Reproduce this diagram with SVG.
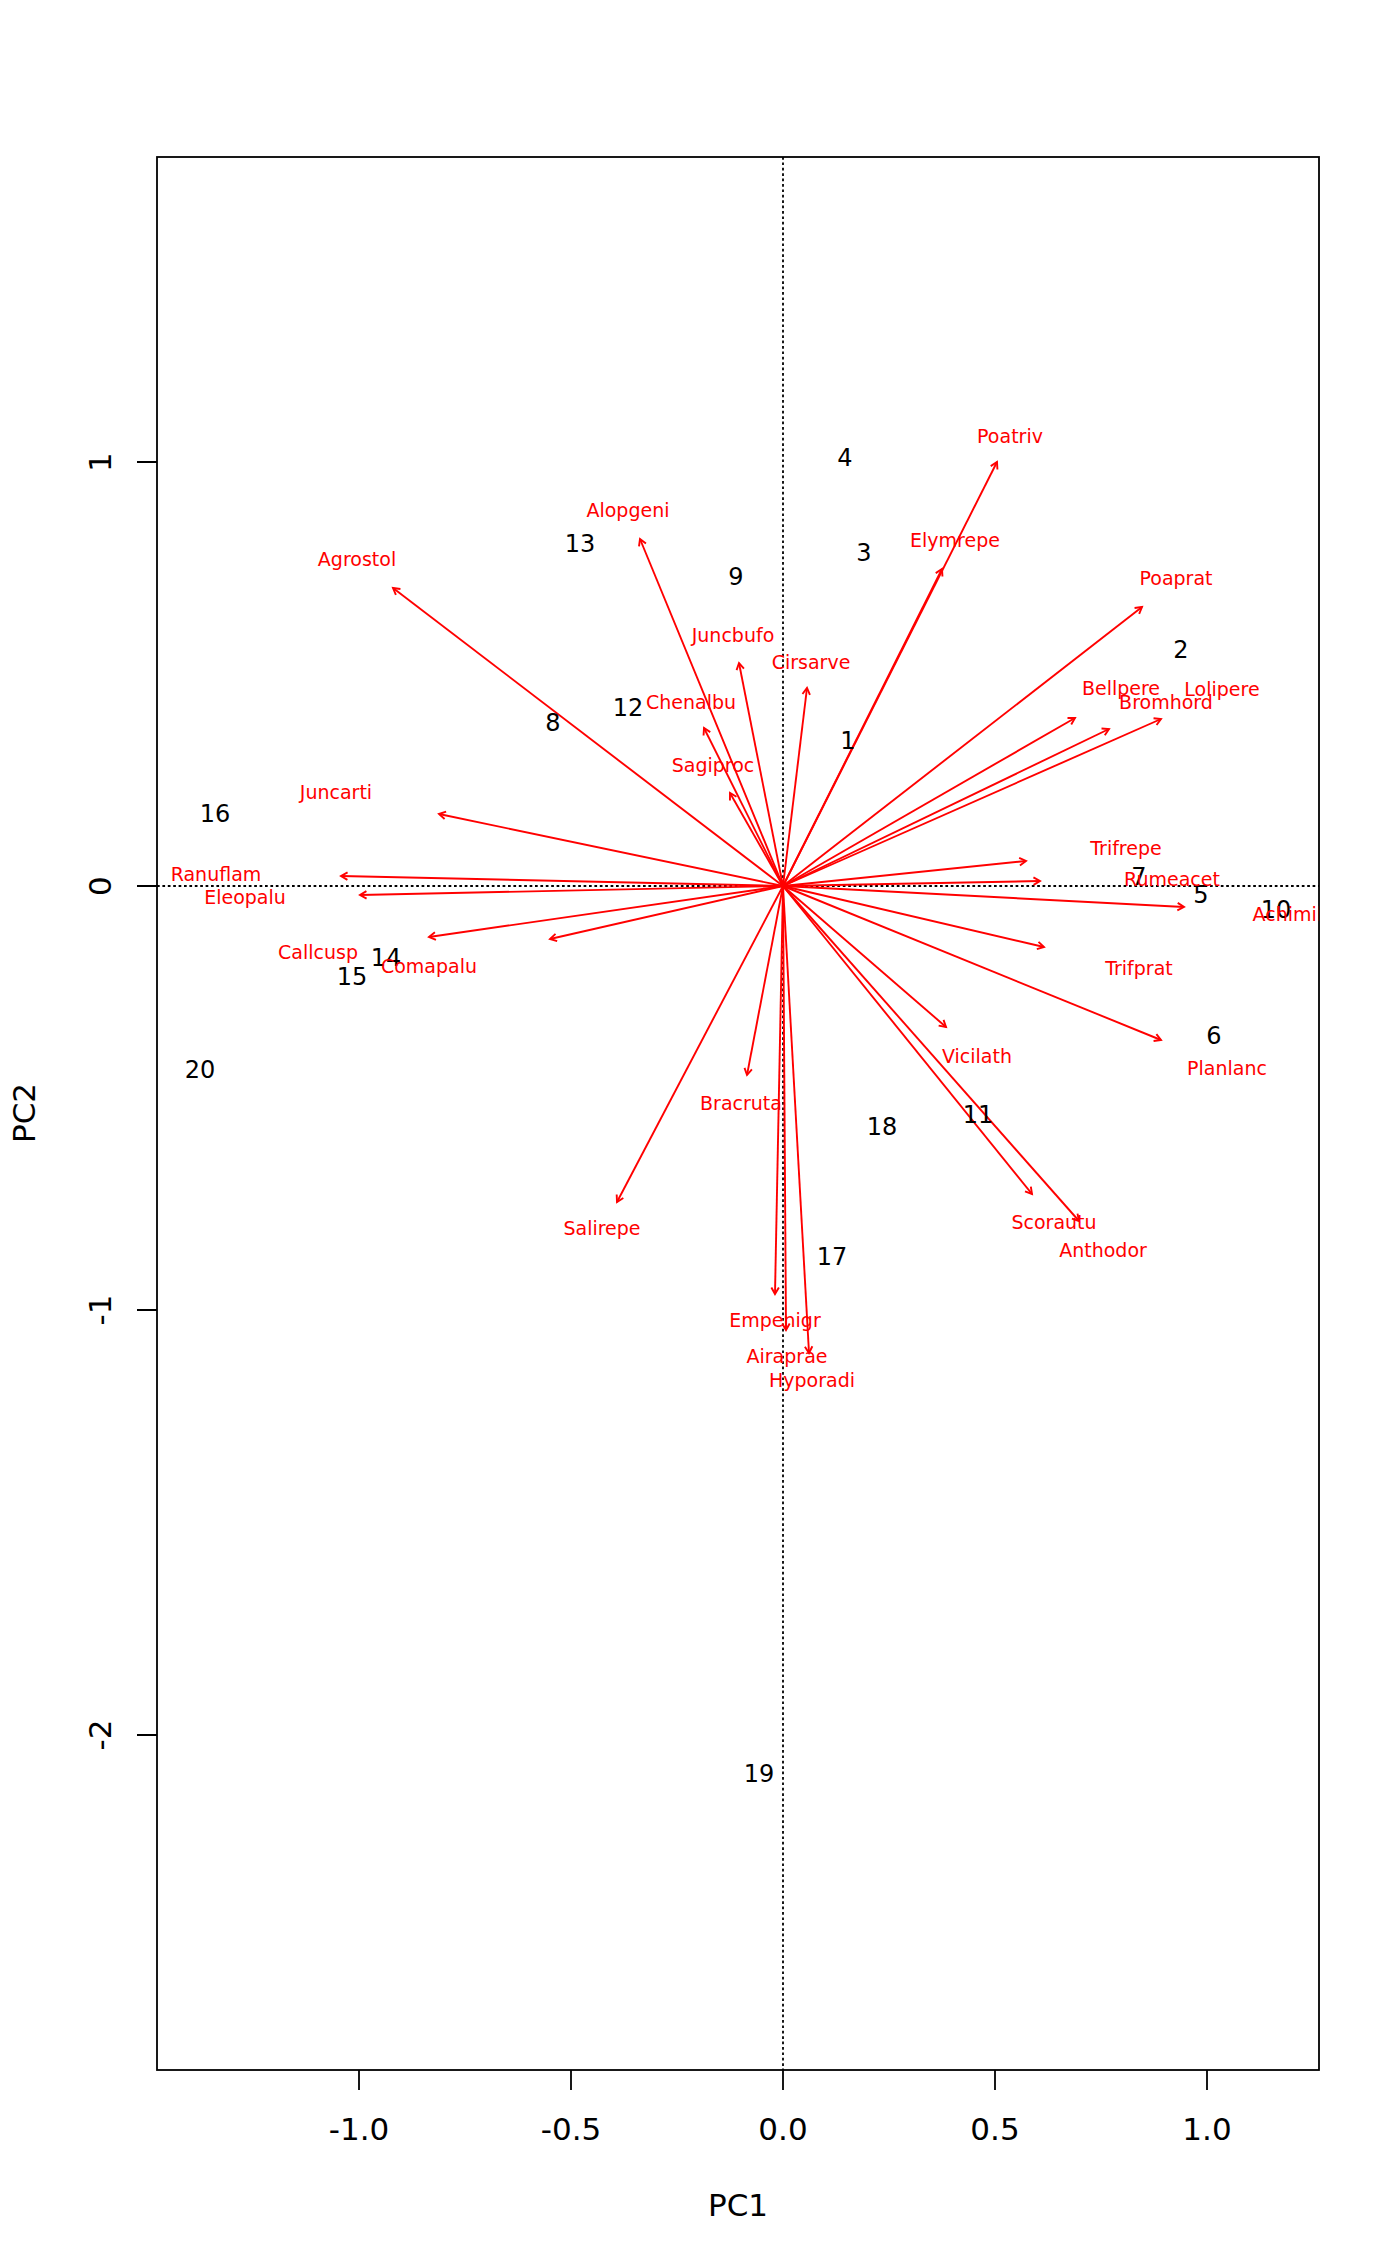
<svg xmlns="http://www.w3.org/2000/svg" width="1400" height="2266" viewBox="0 0 1400 2266">
<style>
text{font-family:"DejaVu Sans","Liberation Sans",sans-serif}
.ax{font-size:31px;fill:#000;text-anchor:middle}
.pt{font-size:24px;fill:#000;text-anchor:middle}
.sp{font-size:19px;fill:#ff0000;text-anchor:middle}
.arr line{stroke:#ff0000;stroke-width:1.9;marker-end:url(#ah)}
.blk{stroke:#000;stroke-width:1.8;fill:none}
.dot{stroke:#000;stroke-width:1.8;stroke-dasharray:2.7 2.7}
</style>
<defs>
<marker id="ah" markerUnits="userSpaceOnUse" viewBox="-8 -5 10 10" markerWidth="10" markerHeight="10" refX="0" refY="0" orient="auto" overflow="visible">
<path d="M-6.5,-3.75 L0,0 L-6.5,3.75" fill="none" stroke="#ff0000" stroke-width="1.9"/>
</marker>
<clipPath id="plot"><rect x="157" y="157" width="1162" height="1913"/></clipPath>
</defs>
<rect width="1400" height="2266" fill="#fff"/>
<g id="axes">
<rect class="blk" x="157" y="157" width="1162" height="1913"/>
<path class="blk" d="M359,2070V2090M571,2070V2090M783,2070V2090M995,2070V2090M1207,2070V2090M137,462H157M137,886H157M137,1310H157M137,1735H157"/>
<text class="ax" x="359" y="2140">-1.0</text>
<text class="ax" x="571" y="2140">-0.5</text>
<text class="ax" x="783" y="2140">0.0</text>
<text class="ax" x="995" y="2140">0.5</text>
<text class="ax" x="1207" y="2140">1.0</text>
<text class="ax" x="111" y="462" transform="rotate(-90 111 462)">1</text>
<text class="ax" x="111" y="886" transform="rotate(-90 111 886)">0</text>
<text class="ax" x="111" y="1310" transform="rotate(-90 111 1310)">-1</text>
<text class="ax" x="111" y="1735" transform="rotate(-90 111 1735)">-2</text>
<text class="ax" x="738" y="2216">PC1</text>
<text class="ax" x="35" y="1113" transform="rotate(-90 35 1113)">PC2</text>
</g>
<g clip-path="url(#plot)">
<g id="refs">
<line class="dot" x1="157" y1="886" x2="1319" y2="886"/>
<line class="dot" x1="783" y1="157" x2="783" y2="2070"/>
</g>
<g id="connectors" class="arr">
<line x1="783" y1="886" x2="393" y2="588"/>
<line x1="783" y1="886" x2="640" y2="539"/>
<line x1="783" y1="886" x2="739" y2="663"/>
<line x1="783" y1="886" x2="807" y2="688"/>
<line x1="783" y1="886" x2="704" y2="728"/>
<line x1="783" y1="886" x2="730" y2="793"/>
<line x1="783" y1="886" x2="997" y2="462"/>
<line x1="783" y1="886" x2="942" y2="569"/>
<line x1="783" y1="886" x2="1142" y2="607"/>
<line x1="783" y1="886" x2="1075" y2="718"/>
<line x1="783" y1="886" x2="1109" y2="729"/>
<line x1="783" y1="886" x2="1161" y2="719"/>
<line x1="783" y1="886" x2="1026" y2="861"/>
<line x1="783" y1="886" x2="1040" y2="881"/>
<line x1="783" y1="886" x2="1184" y2="907"/>
<line x1="783" y1="886" x2="1044" y2="947"/>
<line x1="783" y1="886" x2="1161" y2="1040"/>
<line x1="783" y1="886" x2="946" y2="1027"/>
<line x1="783" y1="886" x2="1032" y2="1194"/>
<line x1="783" y1="886" x2="1079" y2="1221"/>
<line x1="783" y1="886" x2="747" y2="1075"/>
<line x1="783" y1="886" x2="617" y2="1202"/>
<line x1="783" y1="886" x2="775" y2="1294"/>
<line x1="783" y1="886" x2="786" y2="1330"/>
<line x1="783" y1="886" x2="809" y2="1353"/>
<line x1="783" y1="886" x2="439" y2="814"/>
<line x1="783" y1="886" x2="341" y2="876"/>
<line x1="783" y1="886" x2="360" y2="895"/>
<line x1="783" y1="886" x2="429" y2="937"/>
<line x1="783" y1="886" x2="550" y2="939"/>
</g>
<g id="samples">
<g id="s1"><text class="pt" x="848" y="749">1</text></g>
<g id="s2"><text class="pt" x="1181" y="658">2</text></g>
<g id="s3"><text class="pt" x="864" y="561">3</text></g>
<g id="s4"><text class="pt" x="845" y="466">4</text></g>
<g id="s5"><text class="pt" x="1201" y="903">5</text></g>
<g id="s6"><text class="pt" x="1214" y="1044">6</text></g>
<g id="s7"><text class="pt" x="1139" y="885">7</text></g>
<g id="s8"><text class="pt" x="553" y="731">8</text></g>
<g id="s9"><text class="pt" x="736" y="585">9</text></g>
<g id="s10"><text class="pt" x="1276" y="918">10</text></g>
<g id="s11"><text class="pt" x="978" y="1123">11</text></g>
<g id="s12"><text class="pt" x="628" y="716">12</text></g>
<g id="s13"><text class="pt" x="580" y="552">13</text></g>
<g id="s14"><text class="pt" x="386" y="966">14</text></g>
<g id="s15"><text class="pt" x="352" y="985">15</text></g>
<g id="s16"><text class="pt" x="215" y="822">16</text></g>
<g id="s17"><text class="pt" x="832" y="1265">17</text></g>
<g id="s18"><text class="pt" x="882" y="1135">18</text></g>
<g id="s19"><text class="pt" x="759" y="1782">19</text></g>
<g id="s20"><text class="pt" x="200" y="1078">20</text></g>
</g>
<g id="species">
<g id="Agrostol"><text class="sp" x="357" y="566">Agrostol</text></g>
<g id="Alopgeni"><text class="sp" x="628" y="517">Alopgeni</text></g>
<g id="Juncbufo"><text class="sp" x="733" y="642">Juncbufo</text></g>
<g id="Cirsarve"><text class="sp" x="811" y="669">Cirsarve</text></g>
<g id="Chenalbu"><text class="sp" x="691" y="709">Chenalbu</text></g>
<g id="Sagiproc"><text class="sp" x="713" y="772">Sagiproc</text></g>
<g id="Poatriv"><text class="sp" x="1010" y="443">Poatriv</text></g>
<g id="Elymrepe"><text class="sp" x="955" y="547">Elymrepe</text></g>
<g id="Poaprat"><text class="sp" x="1176" y="585">Poaprat</text></g>
<g id="Bellpere"><text class="sp" x="1121" y="695">Bellpere</text></g>
<g id="Lolipere"><text class="sp" x="1222" y="696">Lolipere</text></g>
<g id="Bromhord"><text class="sp" x="1166" y="709">Bromhord</text></g>
<g id="Trifrepe"><text class="sp" x="1126" y="855">Trifrepe</text></g>
<g id="Rumeacet"><text class="sp" x="1172" y="886">Rumeacet</text></g>
<g id="Achimill"><text class="sp" x="1290" y="921">Achimill</text></g>
<g id="Trifprat"><text class="sp" x="1139" y="975">Trifprat</text></g>
<g id="Planlanc"><text class="sp" x="1227" y="1075">Planlanc</text></g>
<g id="Vicilath"><text class="sp" x="977" y="1063">Vicilath</text></g>
<g id="Scorautu"><text class="sp" x="1054" y="1229">Scorautu</text></g>
<g id="Anthodor"><text class="sp" x="1103" y="1257">Anthodor</text></g>
<g id="Bracruta"><text class="sp" x="741" y="1110">Bracruta</text></g>
<g id="Salirepe"><text class="sp" x="602" y="1235">Salirepe</text></g>
<g id="Empenigr"><text class="sp" x="775" y="1327">Empenigr</text></g>
<g id="Airaprae"><text class="sp" x="787" y="1363">Airaprae</text></g>
<g id="Hyporadi"><text class="sp" x="812" y="1387">Hyporadi</text></g>
<g id="Juncarti"><text class="sp" x="336" y="799">Juncarti</text></g>
<g id="Ranuflam"><text class="sp" x="216" y="881">Ranuflam</text></g>
<g id="Eleopalu"><text class="sp" x="245" y="904">Eleopalu</text></g>
<g id="Callcusp"><text class="sp" x="318" y="959">Callcusp</text></g>
<g id="Comapalu"><text class="sp" x="429" y="973">Comapalu</text></g>
</g>
</g>
</svg>
